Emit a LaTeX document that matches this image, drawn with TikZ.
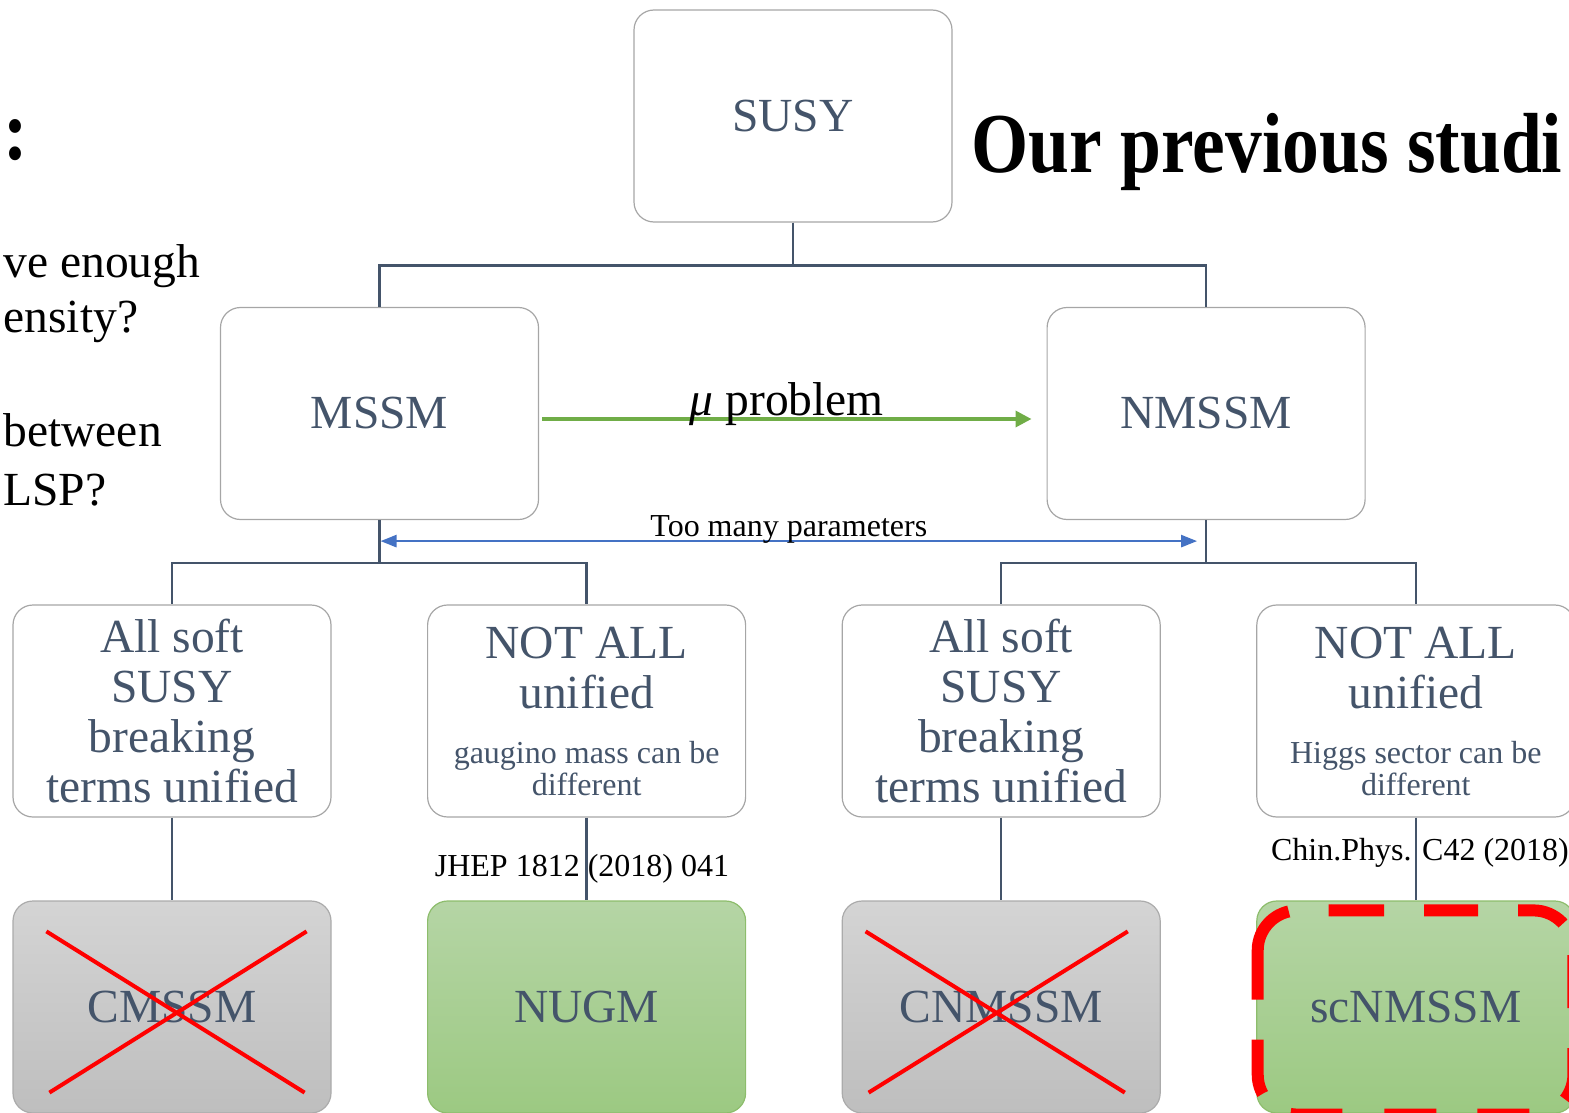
\documentclass[tikz,border=0pt]{standalone}
\usepackage{fontspec}
\usepackage{graphicx}
\setmainfont{Liberation Serif}
\usetikzlibrary{positioning,arrows.meta}
\definecolor{slate}{HTML}{44546A}
\definecolor{boxgray}{HTML}{A6A6A6}
\definecolor{leafgreen}{HTML}{70AD47}
\definecolor{parblue}{HTML}{4472C4}
\definecolor{greentop}{HTML}{B5D5A5}
\definecolor{greenbot}{HTML}{9CC982}
\definecolor{graytop}{HTML}{D4D4D4}
\definecolor{graybot}{HTML}{BEBEBE}
\newcommand{\bigtxt}{\fontsize{47.5}{50}\selectfont}
\newcommand{\smalltxt}{\fontsize{32}{33}\selectfont}
\newcommand{\headtxt}{\fontsize{73.5}{80}\selectfont\bfseries}

\begin{document}
\begin{tikzpicture}[x=1pt, y=-1pt,
    model/.style={rectangle, draw=boxgray, line width=1.2pt, rounded corners=20pt, minimum width=318pt, minimum height=212pt, inner sep=0pt, align=center, text=slate, font=\bigtxt},
    dead/.style={model, top color=graytop, bottom color=graybot, draw=graybot!90!black},
    alive/.style={model, top color=greentop, bottom color=greenbot, draw=leafgreen!80},
    tree/.style={draw=slate, line width=2.5pt},
    cross/.style={red, line width=4pt},
    note/.style={font=\smalltxt, text=black, anchor=base},
    side/.style={font=\bigtxt, anchor=base west},
    mark box/.style={red, line width=12pt, rounded corners=40pt}
]
    \useasboundingbox (0,0) rectangle (1569,1113);

    % side texts
    \node[anchor=base west, font=\headtxt] (colon) at (0,160) {\scalebox{1}[1.16]{:}};
    \node[side] (q1) at (0,277) {ve enough};
    \node[side] (q2) at (0,332) {ensity?};
    \node[side] (q3) at (0,446) {between};
    \node[side] (q4) at (0,505) {LSP?};
    \node[anchor=base west, font=\headtxt] (title) at (968,172) {\scalebox{1}[1.16]{Our previous studi}};

    % model tree
    \node[model] (susy) at (793,116) {SUSY};
    \node[model] (mssm) at (379.5,413.5) {MSSM};
    \node[model, right=507.4pt of mssm] (nmssm) {NMSSM};

    \node[model] (allm) at (172,711) {All soft\\SUSY\\breaking\\terms unified};
    \node[model, right=95.4pt of allm] (somem) {NOT ALL\\unified\\[5pt]{\smalltxt gaugino mass can be}\\[-18pt]{\smalltxt different}};
    \node[model, right=95.4pt of somem] (alln) {All soft\\SUSY\\breaking\\terms unified};
    \node[model, right=95.4pt of alln] (somen) {NOT ALL\\unified\\[5pt]{\smalltxt Higgs sector can be}\\[-18pt]{\smalltxt different}};

    \node[dead, below=82.8pt of allm] (cmssm) {CMSSM};
    \node[alive, below=82.8pt of somem] (nugm) {NUGM};
    \node[dead, below=82.8pt of alln] (cnmssm) {CNMSSM};
    \node[alive, below=82.8pt of somen] (scn) {scNMSSM};

    % tree lines
    \draw[tree] (susy.south) -- ++(0,43) -| (mssm.north);
    \draw[tree] (susy.south) -- ++(0,43) -| (nmssm.north);
    \draw[tree] (mssm.south) -- ++(0,43) -| (allm.north);
    \draw[tree] (mssm.south) -- ++(0,43) -| (somem.north);
    \draw[tree] (nmssm.south) -- ++(0,43) -| (alln.north);
    \draw[tree] (nmssm.south) -- ++(0,43) -| (somen.north);
    \draw[tree] (allm.south) -- (cmssm.north);
    \draw[tree] (somem.south) -- (nugm.north);
    \draw[tree] (alln.south) -- (cnmssm.north);
    \draw[tree] (somen.south) -- (scn.north);

    % arrows between branches
    \draw[leafgreen, line width=3.5pt, -{Triangle[length=16pt,width=16pt]}] ([xshift=3pt,yshift=-5.5pt]mssm.east) -- ([xshift=-15pt,yshift=-5.5pt]nmssm.west)
        node[midway, anchor=base, yshift=4pt, font=\bigtxt, text=black] (mu) {{\itshape μ} problem};
    \draw[parblue, line width=2.5pt, {Triangle[length=16pt,width=12pt]}-{Triangle[length=16pt,width=12pt]}] ([xshift=1pt,yshift=-21pt]mssm.south) -- ([xshift=-9pt,yshift=-21pt]nmssm.south)
        node[midway, note, yshift=5pt] (toomany) {Too many parameters};

    % references
    \node[note] (jhep) at (582,876) {JHEP 1812 (2018) 041};
    \node[note] (cpc) at (1420,860) {Chin.Phys. C42 (2018)};

    % excluded models
    \draw[cross] ([shift={(34pt,-31pt)}]cmssm.north west) -- ([shift={(-27pt,21pt)}]cmssm.south east);
    \draw[cross] ([shift={(-25pt,-31pt)}]cmssm.north east) -- ([shift={(37pt,21pt)}]cmssm.south west);
    \draw[cross] ([shift={(24pt,-31pt)}]cnmssm.north west) -- ([shift={(-36pt,21pt)}]cnmssm.south east);
    \draw[cross] ([shift={(-33pt,-31pt)}]cnmssm.north east) -- ([shift={(27pt,21pt)}]cnmssm.south west);

    % highlight
    \draw[mark box, dash pattern=on 53pt off 40pt on 54pt off 40pt on 48.5pt off 34.3pt on 53pt off 40pt on 53pt off 41pt]
        ([shift={(75pt,-10pt)}]scn.north west) -- ([shift={(-2pt,-10pt)}]scn.north east)
        -- ([shift={(-2pt,-1pt)}]scn.south east) -- ([shift={(-46pt,-1pt)}]scn.south east);
    \draw[mark box, dash pattern=on 52pt off 41pt on 52pt off 42pt on 52pt off 35.5pt on 55pt off 40pt on 103pt off 40pt]
        ([shift={(-46pt,-1pt)}]scn.south east) -- ([shift={(1.5pt,-1pt)}]scn.south west)
        -- ([shift={(1.5pt,-10pt)}]scn.north west) -- ([shift={(75pt,-10pt)}]scn.north west);
\end{tikzpicture}
\end{document}
